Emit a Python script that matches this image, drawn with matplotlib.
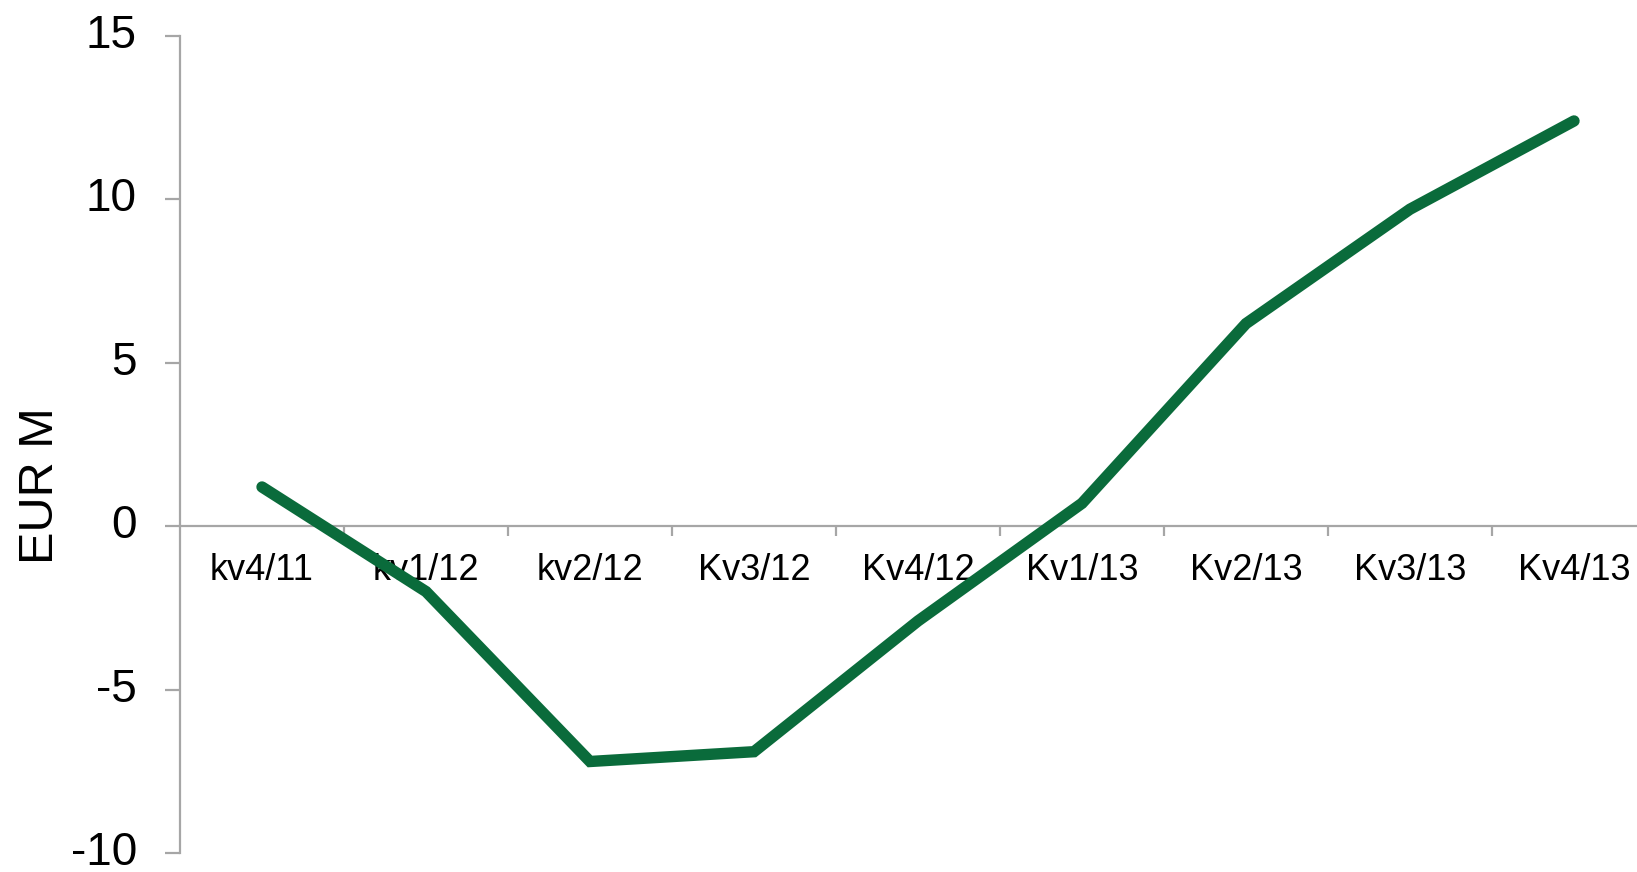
import matplotlib.pyplot as plt
from matplotlib.ticker import FixedLocator

# Data
quarters = ["kv4/11", "kv1/12", "kv2/12", "Kv3/12", "Kv4/12",
            "Kv1/13", "Kv2/13", "Kv3/13", "Kv4/13"]
values = [1.2, -2.0, -7.2, -6.9, -2.9, 0.7, 6.2, 9.7, 12.4]
y_ticks = [-10, -5, 0, 5, 10, 15]

plt.rcParams['font.family'] = ['Liberation Sans', 'DejaVu Sans']

fig = plt.figure(figsize=(16.37, 8.72), dpi=100)
ax = fig.add_axes([180 / 1637, 19 / 872, 1476 / 1637, 817 / 872])

x = list(range(len(quarters)))
ax.plot(x, values, color='#0a6b3b', lw=8.2, solid_capstyle='round',
        solid_joinstyle='miter', zorder=3)

axis_grey = '#a6a6a6'
ax.set_xlim(-0.5, len(quarters) - 0.5)
ax.set_ylim(-10, 15)

for s in ['top', 'right']:
    ax.spines[s].set_visible(False)
ax.spines['bottom'].set_position(('data', 0))
for s in ['left', 'bottom']:
    ax.spines[s].set_color(axis_grey)
    ax.spines[s].set_linewidth(1.6)

ax.set_yticks(y_ticks)
ax.set_yticklabels([str(v) for v in y_ticks], va='center')
ax.tick_params(axis='y', length=11, width=1.6, color=axis_grey,
               labelsize=33, pad=20)

# category boundaries get tick marks, centres get the labels
ax.xaxis.set_major_locator(FixedLocator([i + 0.5 for i in x]))
ax.xaxis.set_minor_locator(FixedLocator(x))
ax.set_xticklabels([], minor=False)
ax.set_xticklabels(quarters, minor=True)
ax.tick_params(axis='x', which='major', length=7, width=1.6, color=axis_grey)
ax.tick_params(axis='x', which='minor', length=0, labelsize=26, pad=19)

ax.set_ylabel("EUR M", fontsize=35)
ax.yaxis.set_label_coords(-0.079, 0.45)

fig.savefig("out.png", dpi=100)
